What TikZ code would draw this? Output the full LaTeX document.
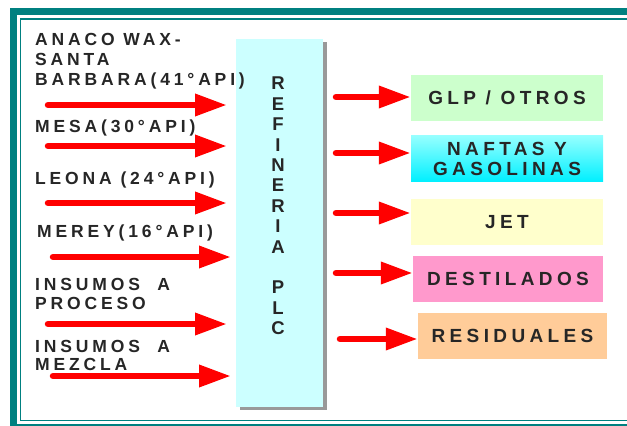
\documentclass[tikz,border=0pt]{standalone}
\usepackage{fontspec}
\setmainfont{Liberation Sans}
\newfontfamily\inputfont[LetterSpace=22]{Liberation Sans}
\newfontfamily\prodfont[LetterSpace=23]{Liberation Sans}
\usetikzlibrary{arrows.meta,shadows}
\definecolor{marco}{RGB}{0,128,128}
\definecolor{refcyan}{RGB}{204,255,255}
\definecolor{glpcol}{RGB}{204,255,204}
\definecolor{jetcol}{RGB}{255,255,204}
\definecolor{destcol}{RGB}{255,153,204}
\definecolor{rescol}{RGB}{255,204,153}
\begin{document}
\begin{tikzpicture}
[x=1pt,y=-1pt]
\tikzstyle{entrada}=[anchor=north west, inner sep=0, align=left, text=black!85,
  font=\inputfont\bfseries\fontsize{17.5}{20}\selectfont]
\tikzstyle{producto}=[minimum width=192, minimum height=46, inner sep=0, align=center,
  text=black!85, font=\prodfont\bfseries\fontsize{19}{20}\selectfont]
\tikzstyle{flecha}=[draw=red, line width=6.5, line cap=round,
  -{Triangle[length=32pt,width=21pt]}]
\useasboundingbox (0,0) rectangle (627,426);
\clip (0,0) rectangle (627,426);
% marco
\draw[marco, line width=7] (13.5,11.5) rectangle (660,427.5);
\draw[marco, line width=1.5] (20.5,19) rectangle (660,420.5);
% refineria
\node[fill=refcyan, minimum width=87, minimum height=368, inner sep=0, anchor=north west,
  drop shadow={shadow xshift=4pt, shadow yshift=-3pt, fill=black!40, opacity=1}]
  (refineria) at (236,39) {};
\node[anchor=north, inner sep=0, align=center, text=black!85,
  font=\bfseries\fontsize{18.5}{20.4}\selectfont] (letras) at (278,77)
  {R\\E\\F\\I\\N\\E\\R\\I\\A\\[20.4pt]P\\L\\C};
% crudos e insumos
\node[entrada] (anaco) at (35,33) {ANACO WAX-\\SANTA\\BARBARA(41°API)};
\node[entrada] (mesa) at (35,120) {MESA(30°API)};
\node[entrada] (leona) at (35,172) {LEONA (24°API)};
\node[entrada] (merey) at (37,225) {MEREY(16°API)};
\node[entrada] (insproc) at (35,278) {INSUMOS~ A\\[-1pt]PROCESO};
\node[entrada] (insmez) at (35,340) {INSUMOS~ A\\[-2pt]MEZCLA};
\coordinate (e1) at (48,105);
\coordinate (e2) at (48,146);
\coordinate (e3) at (48,203);
\coordinate (e4) at (53,257);
\coordinate (e5) at (48,324);
\coordinate (e6) at (53,376);
\draw[flecha, shorten >=9pt] (e1) -- (e1 -| refineria.west);
\draw[flecha, shorten >=9pt] (e2) -- (e2 -| refineria.west);
\draw[flecha, shorten >=9pt] (e3) -- (e3 -| refineria.west);
\draw[flecha, shorten >=5pt] (e4) -- (e4 -| refineria.west);
\draw[flecha, shorten >=9pt] (e5) -- (e5 -| refineria.west);
\draw[flecha, shorten >=5pt] (e6) -- (e6 -| refineria.west);
% productos
\node[producto, fill=glpcol] (glp) at (507,98) {GLP / OTROS};
\node[producto, top color={rgb,255:red,150;green,255;blue,255},
  bottom color={rgb,255:red,0;green,240;blue,255}] (naftas) at (507,158.5)
  {NAFTAS Y\\GASOLINAS};
\node[producto, fill=jetcol] (jet) at (507,222) {JET};
\node[producto, fill=destcol, minimum width=190] (destilados) at (508,279) {DESTILADOS};
\node[producto, fill=rescol, minimum width=189] (residuales) at (512.5,335.5) {RESIDUALES};
\coordinate (s1) at (336,97);
\coordinate (s2) at (336,153);
\coordinate (s3) at (336,213);
\coordinate (s4) at (336,273);
\coordinate (s5) at (340,339);
\draw[flecha] (s1) -- (s1 -| glp.west);
\draw[flecha] (s2) -- (s2 -| naftas.west);
\draw[flecha] (s3) -- (s3 -| jet.west);
\draw[flecha] (s4) -- (s4 -| destilados.west);
\draw[flecha] (s5) -- (s5 -| residuales.west);
\end{tikzpicture}
\end{document}
